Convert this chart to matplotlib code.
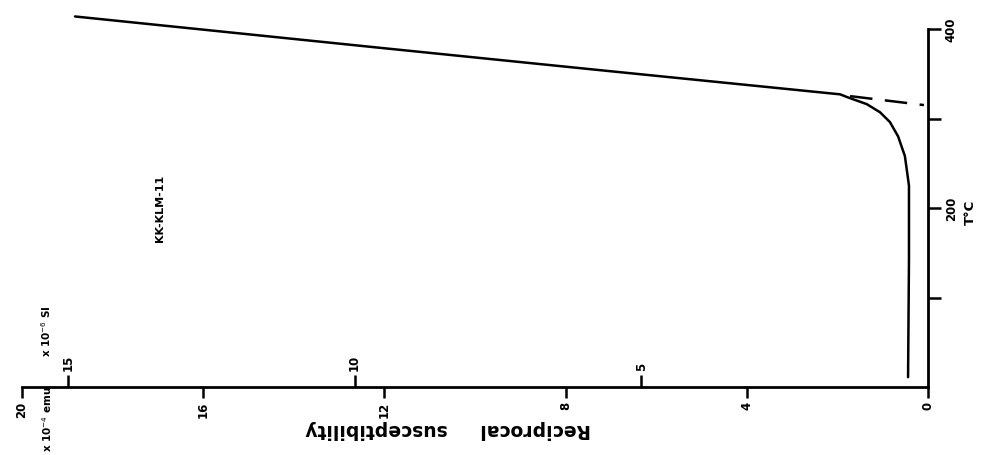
import matplotlib
matplotlib.use("Agg")
import matplotlib.pyplot as plt

# reciprocal susceptibility (x10^-4 emu) and temperature (deg C)
recip_cgs = [18.83, 12.1, 7.24, 1.94, 1.79, 1.35, 1.06, 0.84, 0.66, 0.51, 0.42, 0.42, 0.44]
temp_c    = [414,   379,  354,  327,  324,  316,  307,  296,  280,  258,  225,  143,  11]
# extrapolated (dashed) paramagnetic line
extrap_cgs = [1.72, 0.09]
extrap_t   = [325, 315]

cgs_ticks = [20, 16, 12, 8, 4, 0]
si_ticks = [15, 10, 5]
si_factor = 0.79
t_ticks = [100, 200, 300, 400]
t_labels = ["", "200", "", "400"]

W, H = 985, 456
def fx(px):
    return px / W
def fy(py):
    return 1 - py / H

plt.rcParams['font.family'] = ['DejaVu Sans']
fig = plt.figure(figsize=(9.85, 4.56), dpi=100)
ax = fig.add_axes([22/W, (H-388)/H, 906/W, 375.9/H])

ax.plot(recip_cgs, temp_c, color='black', lw=1.8, clip_on=False,
        solid_capstyle='round', solid_joinstyle='round')
ax.plot(extrap_cgs, extrap_t, color='black', lw=1.8, dashes=(9, 5), clip_on=False)

ax.set_xlim(20, 0)
ax.set_ylim(0, 420)

for s in ['top', 'left']:
    ax.spines[s].set_visible(False)
for s in ['bottom', 'right']:
    ax.spines[s].set_linewidth(2)
ax.spines['right'].set_bounds(0, 400)

ax.set_xticks(cgs_ticks)
ax.set_xticklabels([str(t) for t in cgs_ticks])
ax.tick_params(axis='x', direction='out', length=8, width=1.8, labelsize=8.5,
               labelrotation=90, pad=2)
for lab in ax.get_xticklabels():
    lab.set_fontweight('bold')

ax.yaxis.tick_right()
ax.set_yticks(t_ticks)
ax.set_yticklabels(t_labels)
ax.tick_params(axis='y', direction='out', length=9, width=1.8, labelsize=8.5,
               labelrotation=90, pad=3)
for lab in ax.get_yticklabels():
    lab.set_fontweight('bold')
    lab.set_verticalalignment('center')

secax = ax.secondary_xaxis(0.0, functions=(lambda x: x * si_factor, lambda x: x / si_factor))
secax.set_alignment('top')
secax.set_xticks(si_ticks)
secax.set_xticklabels([str(t) for t in si_ticks])
secax.tick_params(axis='x', direction='out', length=9, width=1.8, labelsize=8.5,
                  labelrotation=90, pad=3)
for lab in secax.get_xticklabels():
    lab.set_fontweight('bold')
for s in secax.spines.values():
    s.set_visible(False)

fig.text(fx(448), fy(430), "Reciprocal     susceptibility", rotation=180, ha='center', va='center',
         fontsize=13.5, fontweight='bold')
fig.text(fx(160), fy(208), "KK-KLM-11", rotation=90, ha='center', va='center',
         fontsize=8, fontweight='bold')
fig.text(fx(46), fy(331), r"x 10$^{-6}$ SI", rotation=90, ha='center', va='center',
         fontsize=7.5, fontweight='bold')
fig.text(fx(47), fy(419), r"x 10$^{-4}$ emu", rotation=90, ha='center', va='center',
         fontsize=7.5, fontweight='bold')
fig.text(fx(970), fy(212), "T°C", rotation=90, ha='center', va='center',
         fontsize=9.5, fontweight='bold')

fig.savefig("out.png", dpi=100)
